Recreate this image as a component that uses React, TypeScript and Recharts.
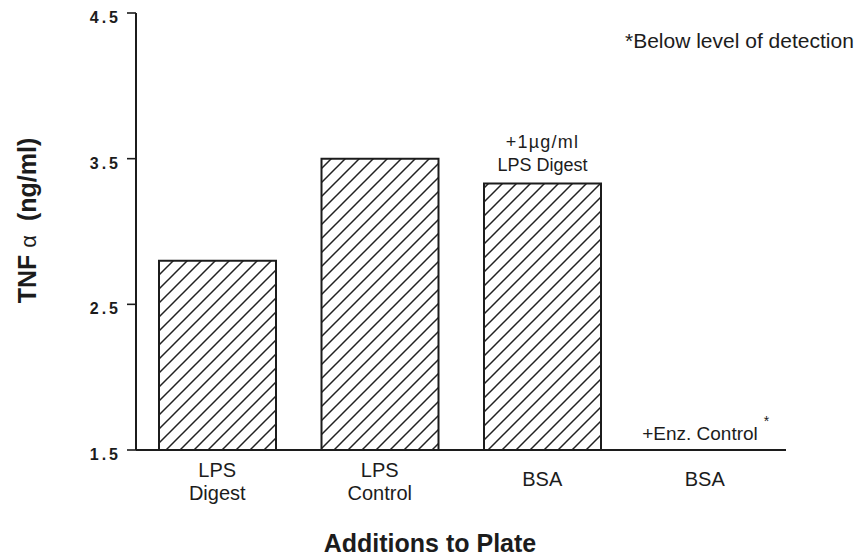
import { BarChart, Bar, XAxis, YAxis, LabelList } from 'recharts';

// TNF-alpha release by additions to the plate
const categories = ['LPS Digest', 'LPS Control', 'BSA + LPS Digest', 'BSA + Enz. Control'];
const categoryLines = [['LPS', 'Digest'], ['LPS', 'Control'], ['BSA'], ['BSA']];
const tnfValues = [2.8, 3.5, 3.33, 1.5];
const barNotes = [[], [], ['+1µg/ml', 'LPS Digest'], ['+Enz. Control']];
const belowDetection = [false, false, false, true];
const yTicks = [1.5, 2.5, 3.5, 4.5];

const INK = '#1c1c1c';
const FONT = '"Liberation Sans", Arial, Helvetica, sans-serif';

const data = categories.map((name, i) => ({ name, tnf: tnfValues[i] }));

function CategoryTick(props: any) {
  const { x, y, index } = props;
  const lines = categoryLines[index] ?? [];
  const first = lines.length > 1 ? 27 : 36;
  const note = belowDetection[index] ? barNotes[index][0] : null;
  return (
    <g>
      <text x={x} y={y} textAnchor="middle" fill={INK} style={{ fontFamily: FONT, fontSize: 20 }}>
        {lines.map((line, i) => (
          <tspan key={i} x={x} dy={i === 0 ? first : 23}>
            {line}
          </tspan>
        ))}
      </text>
      {/* undetectable values get their note just above the baseline */}
      {note && (
        <text x={x + 1} y={y - 10} textAnchor="middle" fill={INK} style={{ fontFamily: FONT, fontSize: 19 }}>
          {note}
          <tspan dx={6} dy={-14} style={{ fontSize: 14 }}>*</tspan>
        </text>
      )}
    </g>
  );
}

function ValueTick(props: any) {
  const { y, payload } = props;
  return (
    <text
      x={121}
      y={y + 10}
      textAnchor="end"
      fill={INK}
      style={{ fontFamily: FONT, fontWeight: 700, fontSize: '16px', letterSpacing: '3px' }}
    >
      {Number(payload.value).toFixed(1)}
    </text>
  );
}

function YTitle(props: any) {
  const vb = props.viewBox ?? { x: 0, y: 0, height: 0 };
  const cx = vb.x + 36;
  const cy = vb.y + vb.height / 2 - 11;
  return (
    <text
      x={cx}
      y={cy}
      transform={`rotate(-90 ${cx} ${cy})`}
      textAnchor="middle"
      fill={INK}
      style={{ fontFamily: FONT, fontWeight: 700, fontSize: 25 }}
    >
      TNF <tspan style={{ fontWeight: 400, fontSize: 22 }}>α</tspan>{'\u00a0\u00a0'}(ng/ml)
    </text>
  );
}

function XTitle(props: any) {
  const vb = props.viewBox ?? { x: 0, y: 0, width: 0 };
  return (
    <text
      x={vb.x + 294}
      y={vb.y + 102}
      textAnchor="middle"
      fill={INK}
      style={{ fontFamily: FONT, fontWeight: 700, fontSize: 25 }}
    >
      Additions to Plate
    </text>
  );
}

function BarNote(props: any) {
  const box = props.viewBox ?? props;
  const { index } = props;
  const lines = barNotes[index] ?? [];
  if (lines.length < 2) return null;
  const cx = box.x + box.width / 2;
  const top = box.y;
  return (
    <text textAnchor="middle" fill={INK} style={{ fontFamily: FONT, fontSize: 18 }}>
      <tspan x={cx} y={top - 35} style={{ letterSpacing: 1.2 }}>{lines[0]}</tspan>
      <tspan x={cx} y={top - 12}>{lines[1]}</tspan>
    </text>
  );
}

export default function App() {
  return (
    <div style={{ position: 'absolute', left: 0, top: 0, width: 860, height: 557, background: '#fff' }}>
      <svg width={0} height={0} style={{ position: 'absolute' }}>
        <defs>
          <pattern id="hatch" patternUnits="userSpaceOnUse" width={14} height={14}>
            <rect width={14} height={14} fill="#fff" />
            <path d="M0,14 L14,0 M-2,2 L2,-2 M12,16 L16,12" stroke="#222" strokeWidth={1.5} />
          </pattern>
        </defs>
      </svg>
      <BarChart
        width={860}
        height={557}
        data={data}
        margin={{ top: 13, right: 74, bottom: 47, left: 0 }}
        barSize={117}
      >
        <XAxis
          dataKey="name"
          height={60}
          tick={(p: any) => <CategoryTick {...p} />}
          tickLine={false}
          tickSize={0}
          tickMargin={0}
          interval={0}
          axisLine={{ stroke: INK, strokeWidth: 2 }}
          label={<XTitle />}
        />
        <YAxis
          width={136}
          domain={[1.5, 4.5]}
          ticks={yTicks}
          allowDataOverflow
          tick={(p: any) => <ValueTick {...p} />}
          tickSize={9}
          tickLine={{ stroke: INK, strokeWidth: 1.6 }}
          axisLine={{ stroke: INK, strokeWidth: 2 }}
          label={<YTitle />}
        />
        <Bar dataKey="tnf" fill="url(#hatch)" stroke={INK} strokeWidth={2} isAnimationActive={false}>
          <LabelList dataKey="tnf" content={<BarNote />} />
        </Bar>
      </BarChart>
      <div
        style={{
          position: 'absolute',
          left: 625,
          top: 30,
          fontFamily: FONT,
          fontSize: 21,
          lineHeight: 1,
          color: INK,
          whiteSpace: 'nowrap',
        }}
      >
        *Below level of detection
      </div>
    </div>
  );
}
